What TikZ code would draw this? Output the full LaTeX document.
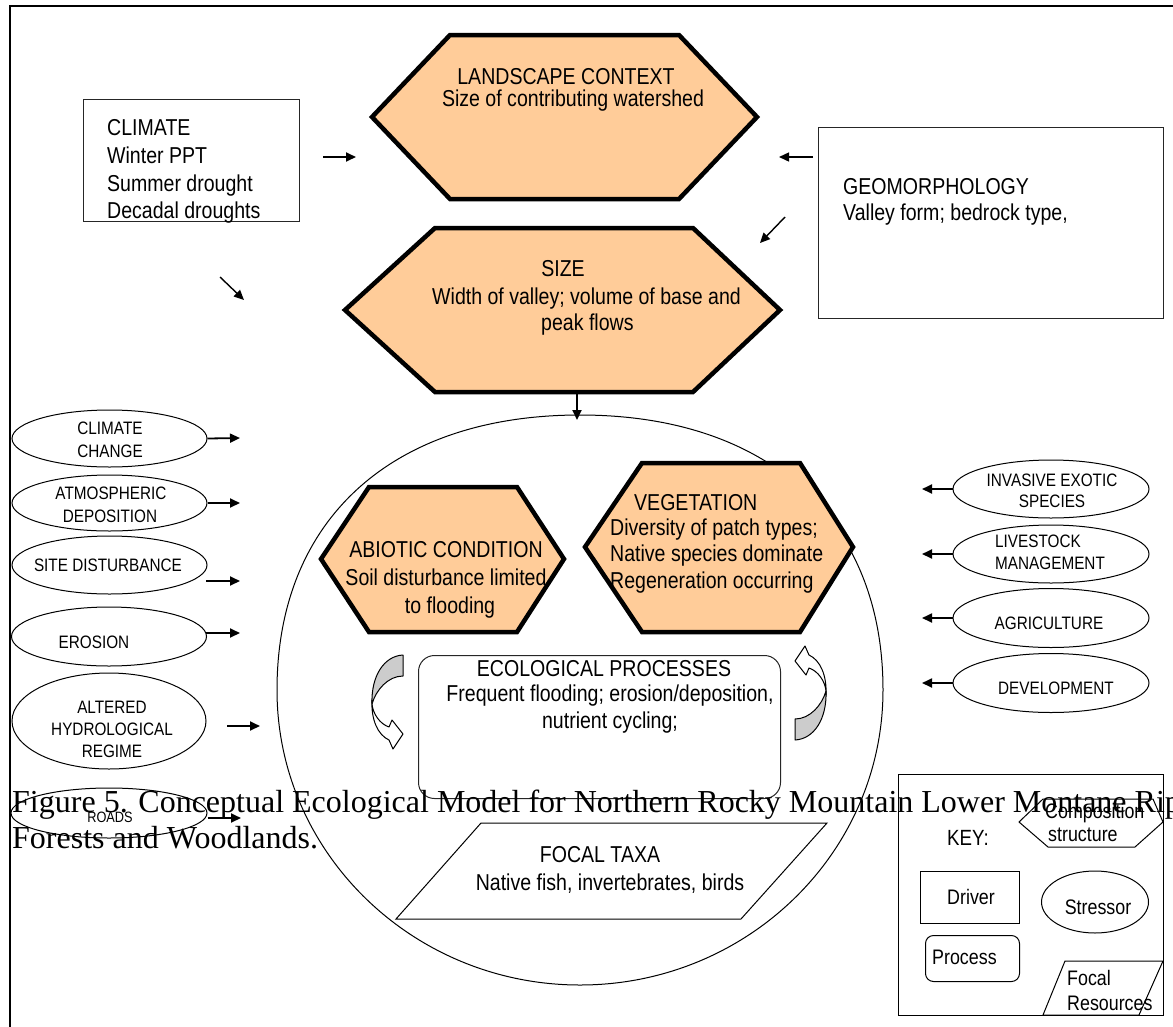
\documentclass[tikz,border=0pt]{standalone}
\usepackage{fontspec}
\setmainfont[FakeStretch=0.85]{Liberation Sans}
\newfontfamily\capfont{Liberation Serif}
\usetikzlibrary{shapes.geometric,arrows.meta}
\definecolor{peach}{RGB}{255,204,153}
\definecolor{cgray}{RGB}{204,204,204}
\newcommand\fbig{\fontsize{23}{27}\selectfont}
\newcommand\fsm{\fontsize{18}{22}\selectfont}
\newcommand\fkey{\fontsize{21}{25}\selectfont}
\newcommand\froads{\fontsize{15}{18}\selectfont}
\newcommand\lbl[4][]{\node[lab,#1] (#2) at #3 {#4};}
\begin{document}
\begin{tikzpicture}[x=1pt,y=-1pt,
  lab/.style={inner sep=0pt,anchor=base,font=\fbig},
  small/.style={font=\fsm},
  keyf/.style={font=\fkey},
  hexst/.style={draw=black,line width=4.5pt,fill=peach,line join=miter},
  box/.style={draw=black!85,line width=1pt,inner sep=0pt},
  stress/.style={draw=black,line width=1pt,ellipse,inner sep=0pt},
  thin/.style={draw=black,line width=1pt},
  arr/.style={line width=1.8pt,-{Triangle[length=10pt,width=9pt]}},
  curv/.style={draw=black,line width=1pt,line join=round}]
\useasboundingbox (0,0) rectangle (1173,1026);
\clip (0,0) rectangle (1173,1026);
% outer frame
\draw[line width=2.5pt] (10,1040) -- (10,6) -- (1190,6);

% ---------- top drivers ----------
\node[box,minimum width=216pt,minimum height=122pt,anchor=north west] (climate) at (83,99) {};
\lbl[anchor=base west]{c1}{(107,135)}{CLIMATE}
\lbl[anchor=base west]{c2}{(107,163)}{Winter PPT}
\lbl[anchor=base west]{c3}{(107,191)}{Summer drought}
\lbl[anchor=base west]{c4}{(107,218)}{Decadal droughts}

\node[box,minimum width=345pt,minimum height=191pt,anchor=north west] (geo) at (818,127) {};
\lbl[anchor=base west]{g1}{(843,194)}{GEOMORPHOLOGY}
\lbl[anchor=base west]{g2}{(843,220)}{Valley form; bedrock type,}

% landscape context
\draw[hexst] (372,117) -- (450,35) -- (679,35) -- (757,117) -- (679,199) -- (450,199) -- cycle;
\lbl{l1}{(566,84)}{LANDSCAPE CONTEXT}
\lbl{l2}{(573,106)}{Size of contributing watershed}

% size
\draw[hexst] (345,310) -- (435,228) -- (693,228) -- (780,310) -- (693,392) -- (435,392) -- cycle;
\lbl{s1}{(563,276)}{SIZE}
\lbl[anchor=base west]{s2}{(432,304)}{Width of valley; volume of base and}
\lbl[anchor=base west]{s3}{(541,330)}{peak flows}

% top arrows
\coordinate (a1s) at (323,157); \coordinate (a1e) at (356,157);
\coordinate (a2s) at (813,157); \coordinate (a2e) at (779,157);
\coordinate (a3s) at (785,217); \coordinate (a3e) at (760,243);
\coordinate (a4s) at (220,277); \coordinate (a4e) at (244,300);
\coordinate (a5s) at (577,392); \coordinate (a5e) at (577,420);
\draw[arr] (a1s) -- (a1e);
\draw[arr,line width=1.4pt] (a2s) -- (a2e);
\draw[arr,line width=1.4pt] (a3s) -- (a3e);
\draw[arr,line width=1.4pt] (a4s) -- (a4e);
\draw[arr] (a5s) -- (a5e);

% ---------- big circle ----------
\coordinate (sys) at (580,690);
\draw[thin] (883,690) .. controls (883,519.5) and (768,415) .. (580,415)
  .. controls (392,415) and (277,519.5) .. (277,690)
  .. controls (277,853) and (413,985) .. (580,985)
  .. controls (747,985) and (883,853) .. (883,690) -- cycle;

% abiotic
\draw[hexst] (321,559) -- (369,487) -- (517,487) -- (564,559) -- (517,632) -- (369,632) -- cycle;
\lbl{ab1}{(446,557)}{ABIOTIC CONDITION}
\lbl{ab2}{(446,585)}{Soil disturbance limited}
\lbl{ab3}{(450,613)}{to flooding}

% vegetation
\draw[hexst] (585,547) -- (642,463) -- (800,463) -- (853,547) -- (800,632) -- (642,632) -- cycle;
\lbl[anchor=base west]{v1}{(634,510)}{VEGETATION}
\lbl[anchor=base west]{v2}{(610,535)}{Diversity of patch types;}
\lbl[anchor=base west]{v3}{(610,561)}{Native species dominate}
\lbl[anchor=base west]{v4}{(610,588)}{Regeneration occurring}

% ecological processes
\node[box,rounded corners=16pt,minimum width=362pt,minimum height=143pt,anchor=north west] (eco) at (418,655) {};
\lbl{e1}{(604,676)}{ECOLOGICAL PROCESSES}
\lbl{e2}{(610,701)}{Frequent flooding; erosion/deposition,}
\lbl{e3}{(610,728)}{nutrient cycling;}

% curved arrows
\filldraw[curv,fill=cgray] (403,655) .. controls (384,656) and (371,676) .. (372,704) .. controls (376,690) and (388,676) .. (403,676) -- cycle;
\filldraw[curv,fill=white] (372,700) .. controls (371,720) and (378,735) .. (389,740) -- (393,749) -- (403,734) -- (392,720) -- (389,727) .. controls (380,724) and (373,714) .. (372,704) -- cycle;
\begin{scope}[rotate around={180:(599,697.5)}]
\filldraw[curv,fill=cgray] (403,655) .. controls (384,656) and (371,676) .. (372,704) .. controls (376,690) and (388,676) .. (403,676) -- cycle;
\filldraw[curv,fill=white] (372,700) .. controls (371,720) and (378,735) .. (389,740) -- (393,749) -- (403,734) -- (392,720) -- (389,727) .. controls (380,724) and (373,714) .. (372,704) -- cycle;
\end{scope}

% focal taxa
\draw[thin] (481,823) -- (827,823) -- (741,919) -- (396,919) -- cycle;
\coordinate (focal) at (611,871);
\lbl{f1}{(600,862)}{FOCAL TAXA}
\lbl{f2}{(610,890)}{Native fish, invertebrates, birds}

% ---------- left stressors ----------
\node[stress,minimum width=195pt,minimum height=57pt] (cc) at (109.5,438.5) {};
\lbl[small]{cc1}{(110,434)}{CLIMATE}
\lbl[small]{cc2}{(110,457)}{CHANGE}
\node[stress,minimum width=195pt,minimum height=56pt] (ad) at (109.5,503) {};
\lbl[small]{ad1}{(111,499)}{ATMOSPHERIC}
\lbl[small]{ad2}{(110,522)}{DEPOSITION}
\node[stress,minimum width=195pt,minimum height=58pt] (sd) at (109.5,565) {};
\lbl[small]{sd1}{(108,571)}{SITE DISTURBANCE}
\node[stress,minimum width=195pt,minimum height=59pt] (er) at (109,636.5) {};
\lbl[small]{er1}{(94,648)}{EROSION}
\node[stress,minimum width=194pt,minimum height=96pt] (ah) at (109,721) {};
\lbl[small]{ah1}{(112,713)}{ALTERED}
\lbl[small]{ah2}{(112,735)}{HYDROLOGICAL}
\lbl[small]{ah3}{(112,757)}{REGIME}
\node[stress,minimum width=196pt,minimum height=50pt] (ro) at (109,813) {};
\lbl[font=\froads]{ro1}{(110,822)}{ROADS}

\coordinate (ccA) at (240,438); \coordinate (adA) at (240,503);
\coordinate (sdS) at (206,581); \coordinate (sdA) at (240,581);
\coordinate (erS) at (206,633); \coordinate (erA) at (240,633);
\coordinate (ahS) at (227,726); \coordinate (ahA) at (260,726);
\coordinate (roA) at (241,818);
\draw[arr] (cc.east) -- (ccA);
\draw[arr] (ad.east) -- (adA);
\draw[arr] (sdS) -- (sdA);
\draw[arr] (erS) -- (erA);
\draw[arr] (ahS) -- (ahA);
\draw[arr] (ro.east |- roA) -- (roA);

% ---------- right stressors ----------
\node[stress,minimum width=196pt,minimum height=58pt] (ie) at (1051,489) {};
\lbl[small]{ie1}{(1052,486)}{INVASIVE EXOTIC}
\lbl[small]{ie2}{(1052,507)}{SPECIES}
\node[stress,minimum width=196pt,minimum height=58pt] (lm) at (1051,554) {};
\lbl[small,anchor=base west]{lm1}{(995,547)}{LIVESTOCK}
\lbl[small,anchor=base west]{lm2}{(995,569)}{MANAGEMENT}
\node[stress,minimum width=196pt,minimum height=59pt] (ag) at (1051,618) {};
\lbl[small]{ag1}{(1049,629)}{AGRICULTURE}
\node[stress,minimum width=196pt,minimum height=59pt] (de) at (1051,683) {};
\lbl[small]{de1}{(1056,694)}{DEVELOPMENT}
\coordinate (ieA) at (922,489); \coordinate (lmA) at (922,554);
\coordinate (agA) at (922,618); \coordinate (deA) at (922,683);
\draw[arr] (ie.west) -- (ieA);
\draw[arr] (lm.west) -- (lmA);
\draw[arr] (ag.west) -- (agA);
\draw[arr] (de.west) -- (deA);

% ---------- key ----------
\node[box,draw=black,minimum width=265pt,minimum height=241pt,anchor=north west] (key) at (898,774) {};
\lbl[anchor=base west,font=\fontsize{22}{26}\selectfont]{k0}{(947,845)}{KEY:}
\draw[thin] (1019,822) -- (1043,799) -- (1153,799) -- (1163,822) -- (1135,847) -- (1048,847) -- cycle;
\lbl[keyf,anchor=base west]{k1}{(1045,818)}{Composition}
\lbl[keyf,anchor=base west]{k2}{(1048,841)}{structure}
\node[box,draw=black,minimum width=99pt,minimum height=52pt,anchor=north west] (kd) at (920,871) {};
\lbl[keyf]{k3}{(971,904)}{Driver}
\node[stress,minimum width=107pt,minimum height=62pt] (ks) at (1095,902) {};
\lbl[keyf]{k4}{(1098,914)}{Stressor}
\node[box,draw=black,rounded corners=8pt,minimum width=94pt,minimum height=46pt,anchor=north west] (kp) at (925,935) {};
\lbl[keyf,anchor=base west]{k5}{(932,964)}{Process}
\draw[thin] (1065,961) -- (1163,961) -- (1139,1015) -- (1043,1015) -- cycle;
\lbl[keyf,anchor=base west]{k6}{(1067,985)}{Focal}
\lbl[keyf,anchor=base west]{k7}{(1067,1010)}{Resources}

% ---------- caption ----------
\node[inner sep=0pt,anchor=base west,font=\capfont\fontsize{32}{37}\selectfont] (cap1) at (12,812) {Figure 5. Conceptual Ecological Model for Northern Rocky Mountain Lower Montane Riparian};
\node[inner sep=0pt,anchor=base west,font=\capfont\fontsize{32}{37}\selectfont] (cap2) at (12,848) {Forests and Woodlands.};
\end{tikzpicture}
\end{document}
